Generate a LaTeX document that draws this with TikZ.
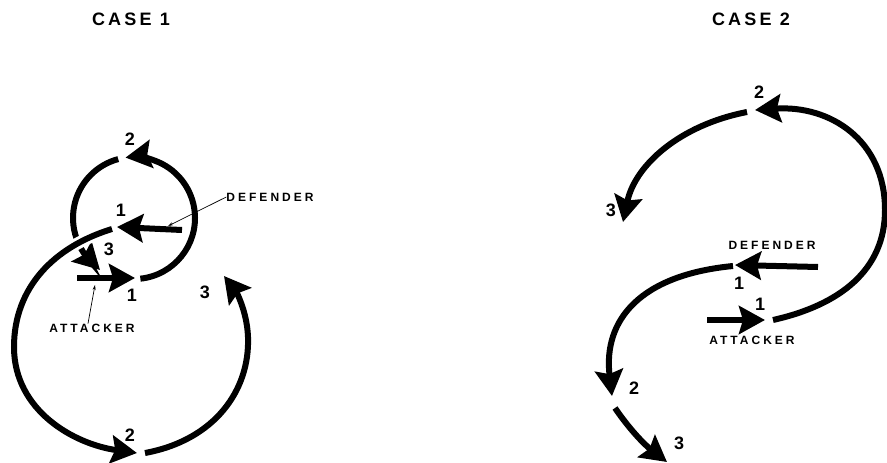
\documentclass[tikz,border=0pt]{standalone}
\usepackage{fontspec}
\setmainfont{Liberation Sans}
\newfontfamily\spacedfont[LetterSpace=25]{Liberation Sans}
\newfontfamily\headfont[LetterSpace=18]{Liberation Sans}
\usetikzlibrary{arrows.meta,positioning}

\begin{document}
\begin{tikzpicture}[x=1pt,y=-1pt,every node/.style={inner sep=0pt,font=\bfseries\fontsize{18}{18}\selectfont},casehead/.style={font=\headfont\bfseries\fontsize{18}{18}\selectfont},tag/.style={font=\spacedfont\bfseries\fontsize{12}{12}\selectfont},move/.style={line width=6pt,-{Stealth[length=26pt,width=28pt,inset=4pt]}},lead/.style={line width=.7pt,-{Stealth[length=5pt,width=3pt]}},gap/.style={preaction={draw=white,line width=12pt,arrows=-}}]
\useasboundingbox (0,0) rectangle (887,463);
% case 1
\node[casehead] (c1) at (131,19) {CASE 1};
\coordinate (d1s) at (182,230); \coordinate (d1) at (117,227);
\coordinate (a1s) at (77,278); \coordinate (a1) at (135,278);
\coordinate (lc) at (134,218);
\coordinate (d3) at (100,270);
\coordinate (a2) at (137,453); \coordinate (a2s) at (145,453);
\coordinate (a3) at (224,276);
\draw[move] (lc) ++(84:61) arc[start angle=84,end angle=-98,radius=61];
\draw[move] (lc) ++(-105:61) arc[start angle=-105,end angle=-200,radius=61] to[out=290,in=135] (d3);
\draw[move,gap] (112,229) to[out=197,in=90] (14,347) to[out=270,in=172] (a2);
\draw[move] (a2s) .. controls (215,440) and (250,390) .. (248,337) .. controls (247,310) and (235,290) .. (a3);
\draw[move] (d1s) -- (d1);
\draw[move] (a1s) -- (a1);
\node (n1d1) at (121,210) {1};
\node (n1d2) at (130,139) {2};
\node (n1d3) at (109,249) {3};
\node (n1a1) at (132,295) {1};
\node (n1a2) at (130,435) {2};
\node (n1a3) at (205,292) {3};
\node[tag] (def1) at (270,197) {DEFENDER};
\node[tag] (att1) at (92,328) {ATTACKER};
\draw[lead] (def1.west) -- (168,226);
\draw[lead] (att1.north) ++(-4,0) -- (95,285);
% case 2
\node[casehead] (c2) at (751,19) {CASE 2};
\coordinate (d1s') at (818,267); \coordinate (d1') at (735,265);
\coordinate (a1s') at (707,320); \coordinate (a1') at (765,320);
\draw[move] (773,320) .. controls (840,305) and (885,270) .. (885,210) .. controls (885,140) and (830,105) .. (755,110);
\draw[move] (747,112) .. controls (680,125) and (635,165) .. (623,222);
\draw[move] (733,266) .. controls (640,275) and (603,320) .. (612,396);
\draw[move] (615,408) .. controls (630,430) and (645,445) .. (667,462);
\draw[move] (d1s') -- (d1');
\draw[move] (a1s') -- (a1');
\node (n2a2) at (759,92) {2};
\node (n2a3) at (611,210) {3};
\node (n2d1) at (739,283) {1};
\node (n2a1) at (760,304) {1};
\node (n2d2) at (634,388) {2};
\node (n2d3) at (679,443) {3};
\node[tag] (def2) at (772,245) {DEFENDER};
\node[tag] (att2) at (752,340) {ATTACKER};
\end{tikzpicture}
\end{document}
